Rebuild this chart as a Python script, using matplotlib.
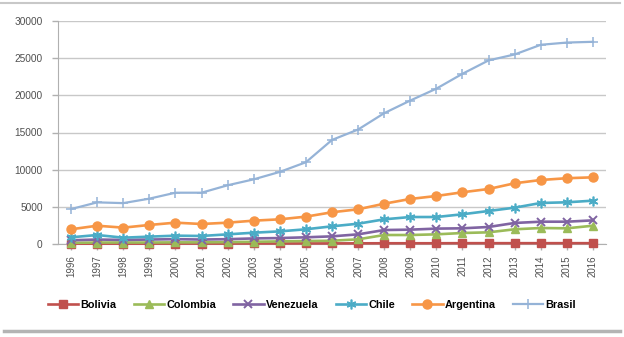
import matplotlib
matplotlib.use("Agg")
import matplotlib.pyplot as plt
from matplotlib.lines import Line2D

years = [str(y) for y in range(1996, 2017)]

bolivia = [40, 50, 50, 50, 60, 60, 60, 70, 70, 80, 80, 90, 100, 100, 100, 110, 110, 110, 110, 110, 110]
colombia = [150, 200, 200, 200, 220, 220, 250, 300, 350, 400, 440, 630, 1210, 1210, 1300, 1480, 1570, 1980, 2150, 2110, 2460]
venezuela = [500, 600, 550, 600, 650, 600, 650, 750, 800, 900, 1030, 1300, 1880, 1930, 2070, 2110, 2290, 2830, 3000, 3000, 3180]
chile = [900, 1210, 850, 990, 1120, 1080, 1300, 1520, 1700, 1980, 2380, 2730, 3320, 3630, 3630, 4000, 4440, 4890, 5520, 5610, 5830]
argentina = [1980, 2460, 2200, 2560, 2870, 2690, 2870, 3140, 3320, 3680, 4270, 4670, 5420, 6060, 6460, 6960, 7400, 8170, 8610, 8850, 8970]
brasil = [4700, 5600, 5500, 6100, 6900, 6900, 7900, 8700, 9700, 11000, 14000, 15400, 17600, 19300, 20900, 22900, 24700, 25500, 26800, 27100, 27200]

# name, values, colour, marker, marker size, marker edge width, line width
series = [
    ("Bolivia", bolivia, "#C0504D", "s", 5.5, 1.0, 1.9),
    ("Colombia", colombia, "#9BBB59", "^", 6, 1.0, 1.9),
    ("Venezuela", venezuela, "#8064A2", "x", 6, 1.4, 1.9),
    ("Chile", chile, "#4BACC6", (6, 2, 0), 7, 1.2, 1.9),
    ("Argentina", argentina, "#F79646", "o", 6.5, 1.0, 1.9),
    ("Brasil", brasil, "#95B3D7", "+", 7, 1.1, 1.6),
]

fig = plt.figure(figsize=(6.24, 3.37), dpi=100)
ax = fig.add_axes([58 / 624, 1 - 244 / 337, 548 / 624, 223 / 337])

x = list(range(len(years)))
handles = []
for name, vals, color, marker, ms, mew, lw in series:
    ax.plot(x, vals, color=color, lw=lw, marker=marker, ms=ms,
            mew=mew, mec=color, mfc=color, zorder=3, clip_on=False)
    handles.append(Line2D([], [], color=color, lw=lw, marker=marker,
                          ms=ms, mew=mew, mec=color, mfc=color))

ax.set_xlim(-0.5, len(years) - 0.5)
ax.set_ylim(0, 30000)
ax.set_yticks(range(0, 30001, 5000))
ax.set_yticklabels([str(v) for v in range(0, 30001, 5000)],
                   fontsize=7.3, color="#505050", family="Liberation Sans")
ax.set_xticks(x)
ax.set_xticklabels(years, rotation=90, fontsize=7, color="#505050",
                   family="Liberation Sans")
ax.grid(axis="y", color="#C8C8C8", lw=1.0)
ax.set_axisbelow(True)
for s in ["top", "right"]:
    ax.spines[s].set_visible(False)
ax.spines["left"].set_color("#B0B0B0")
ax.spines["bottom"].set_color("#B0B0B0")
ax.tick_params(axis="both", color="#B0B0B0", length=4, width=1)
ax.tick_params(axis="y", pad=7)
ax.tick_params(axis="x", pad=4)

fig.legend(handles, [s[0] for s in series], loc="center",
           bbox_to_anchor=(312 / 624, 1 - 305 / 337), ncol=6, frameon=False,
           handlelength=2.8, columnspacing=1.6, handletextpad=0.2,
           prop={"family": "Liberation Sans", "weight": "bold", "size": 7.8})

fig.add_artist(Line2D([0, 620 / 624], [1 - 3 / 337, 1 - 3 / 337],
                      color="#C8C8C8", lw=1.5, transform=fig.transFigure))
fig.add_artist(Line2D([4 / 624, 620 / 624], [1 - 331 / 337, 1 - 331 / 337],
                      color="#B4B4B4", lw=2.5, transform=fig.transFigure))

fig.savefig("out.png", dpi=100)
